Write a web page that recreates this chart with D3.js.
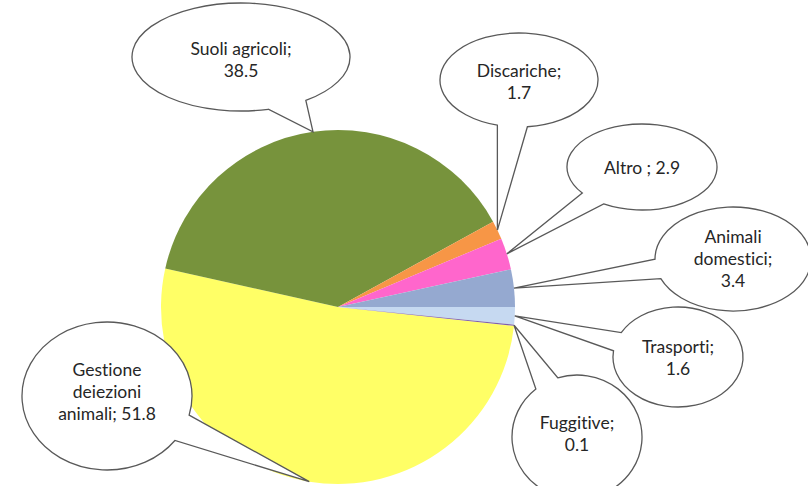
<!DOCTYPE html>
<html>
<head>
<meta charset="utf-8">
<script src="https://cdn.jsdelivr.net/npm/d3@7/dist/d3.min.js"></script>
<style>
  body { margin: 0; background: #fff; }
  text { font-family: Lato, "Liberation Sans", sans-serif; fill: #262626;
         font-variant-ligatures: none; font-feature-settings: "liga" 0; }
</style>
</head>
<body>
<script>
// Dati
var categorie = ["Gestione deiezioni animali", "Suoli agricoli", "Discariche", "Altro",
                 "Animali domestici", "Trasporti", "Fuggitive"]
var valori = [51.8, 38.5, 1.7, 2.9, 3.4, 1.6, 0.1]
var etichette = [
    ["Gestione", "deiezioni", "animali; 51.8"],
    ["Suoli agricoli;", "38.5"],
    ["Discariche;", "1.7"],
    ["Altro ; 2.9"],
    ["Animali", "domestici;", "3.4"],
    ["Trasporti;", "1.6"],
    ["Fuggitive;", "0.1"]
]

var width = 808
var height = 486

// Centro e raggio della torta
var cx = 338, cy = 307, raggio = 177
var angoloInizio = 96.1 * Math.PI / 180

// Colori
var colore = d3.scaleOrdinal()
    .domain(categorie)
    .range(["#FFFF66", "#77933C", "#F79646", "#FF66CC", "#95A9D0", "#C6D9F1", "#7F60A8"])

// Posizione dei fumetti (ellissi)
var fumetti = {
    "Gestione deiezioni animali": {x: 107, y: 396, rx: 85, ry: 74, dy: -4},
    "Suoli agricoli":             {x: 241, y: 57, rx: 109, ry: 54, dy: 3},
    "Discariche":                 {x: 519, y: 80, rx: 79, ry: 47, dy: 2},
    "Altro":                      {x: 642, y: 167, rx: 75, ry: 43, dy: 1},
    "Animali domestici":          {x: 733, y: 259, rx: 78, ry: 52, dy: 0},
    "Trasporti":                  {x: 678, y: 357, rx: 65, ry: 50, dy: 1},
    "Fuggitive":                  {x: 577, y: 437, rx: 65, ry: 62, dy: -3}
}

var svg = d3.select("body")
    .append("svg")
    .attr("width", width)
    .attr("height", height)

var torta = d3.pie()
    .sort(null)
    .value(function (d) { return d.valore })
    .startAngle(angoloInizio)
    .endAngle(angoloInizio + 2 * Math.PI)

var dati = categorie.map(function (c, i) {
    return {categoria: c, valore: valori[i], righe: etichette[i]}
})
var fette = torta(dati)

var arco = d3.arc().innerRadius(0).outerRadius(raggio)

var g = svg.append("g").attr("transform", "translate(" + cx + "," + cy + ")")

g.selectAll("path")
    .data(fette)
    .enter()
    .append("path")
    .attr("d", arco)
    .attr("fill", function (d) { return colore(d.data.categoria) })

// Fumetti con punta verso il bordo della fetta
var delta = 11 * Math.PI / 180

var gruppi = svg.selectAll("g.fumetto")
    .data(fette)
    .enter()
    .append("g")
    .attr("class", "fumetto")

gruppi.append("path")
    .attr("fill", "#fff")
    .attr("stroke", "#595959")
    .attr("stroke-width", 1.3)
    .attr("d", function (d) {
        var f = fumetti[d.data.categoria]
        var a = (d.startAngle + d.endAngle) / 2
        var px = cx + raggio * Math.sin(a)
        var py = cy - raggio * Math.cos(a)
        var t = Math.atan2((py - f.y) / f.ry, (px - f.x) / f.rx)
        var x1 = f.x + f.rx * Math.cos(t - delta), y1 = f.y + f.ry * Math.sin(t - delta)
        var x2 = f.x + f.rx * Math.cos(t + delta), y2 = f.y + f.ry * Math.sin(t + delta)
        return "M" + x2 + "," + y2 +
            "A" + f.rx + "," + f.ry + " 0 1 1 " + x1 + "," + y1 +
            "L" + px + "," + py + "Z"
    })

gruppi.append("text")
    .attr("text-anchor", "middle")
    .attr("font-size", "17.5px")
    .each(function (d) {
        var f = fumetti[d.data.categoria]
        var n = d.data.righe.length
        var lh = 22
        var t = d3.select(this)
        d.data.righe.forEach(function (r, i) {
            t.append("tspan")
                .attr("x", f.x)
                .attr("y", f.y + f.dy + 6 + (i - (n - 1) / 2) * lh)
                .text(r)
        })
    })
</script>
</body>
</html>
